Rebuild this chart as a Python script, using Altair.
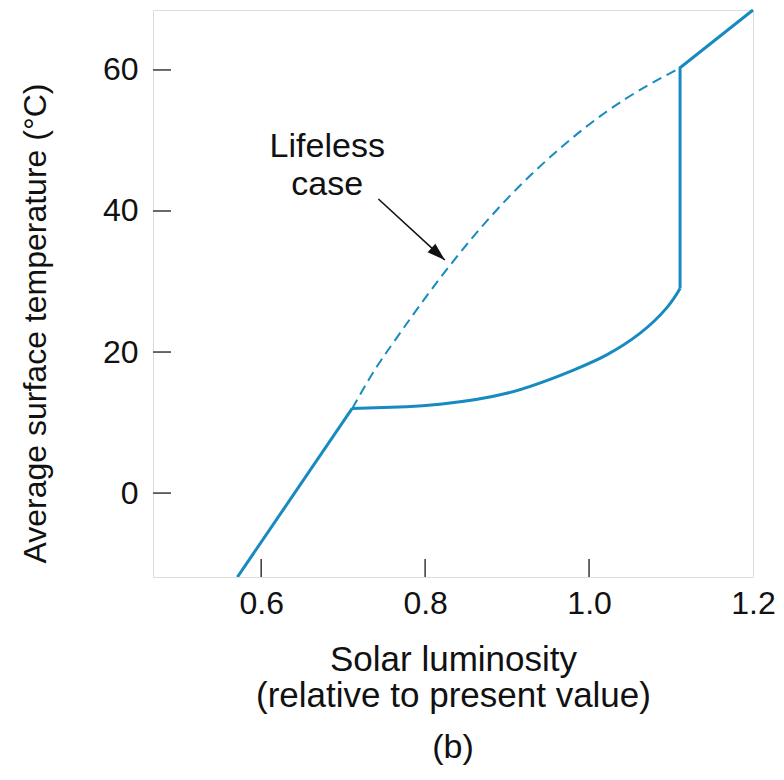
import altair as alt
import pandas as pd

# Solar luminosity (relative to present) vs. average surface temperature (°C)
# Straight warming branch below the onset of life
low_lum = [0.571, 0.711]
low_temp = [-11.9, 12.0]

# Regulated (life) branch
life_lum = [0.711, 0.7775, 0.818, 0.8995, 0.981, 1.0215, 1.062, 1.095, 1.111]
life_temp = [12.0, 12.25, 12.6, 14.15, 17.45, 19.6, 22.65, 26.3, 29.0]

# Collapse of regulation and the lifeless branch beyond it
jump_lum = [1.111, 1.111, 1.200]
jump_temp = [29.0, 60.3, 68.5]

# Lifeless case (dashed)
dead_lum = [0.711, 0.736, 0.764, 0.825, 0.914, 1.019, 1.111]
dead_temp = [12.0, 17.0, 21.8, 31.5, 43.4, 53.9, 60.3]

# Annotation arrow (start, tip)
arrow_lum = [0.743, 0.824]
arrow_temp = [41.7, 33.05]

x_ticks = [0.6, 0.8, 1.0, 1.2]
y_ticks = [0, 20, 40, 60]

X_DOMAIN = [0.468, 1.2]
Y_DOMAIN = [-11.9, 68.5]
W, H = 600, 567
BLUE = "#178bc0"
FONT = "Liberation Sans"

xs = alt.Scale(domain=X_DOMAIN, nice=False, zero=False)
ys = alt.Scale(domain=Y_DOMAIN, nice=False, zero=False)

x_axis = alt.Axis(
    values=x_ticks, format=".1f", grid=False, domain=False, ticks=False,
    labelFont=FONT, labelFontSize=32, labelColor="#111", labelPadding=11,
    labelFlush=False,
    title=["Solar luminosity", "(relative to present value)"],
    titleFont=FONT, titleFontSize=35, titleFontWeight="normal", titleColor="#111",
    titleLineHeight=36, titleBaseline="alphabetic", titleY=93,
)
y_axis = alt.Axis(
    values=y_ticks, format="d", grid=False, domain=False, ticks=False,
    labelFont=FONT, labelFontSize=32, labelColor="#111", labelPadding=15,
    labelFlush=False,
    title="Average surface temperature (°C)",
    titleFont=FONT, titleFontSize=32, titleFontWeight="normal", titleColor="#111",
    titleBaseline="alphabetic", titleAngle=-90, titleX=-108, titleY=313,
    titleAlign="center",
)

low_df = pd.DataFrame({"lum": low_lum, "temp": low_temp})
life_df = pd.DataFrame({"lum": life_lum, "temp": life_temp})
jump_df = pd.DataFrame({"lum": jump_lum, "temp": jump_temp, "k": range(len(jump_lum))})
dead_df = pd.DataFrame({"lum": dead_lum, "temp": dead_temp})

low = alt.Chart(low_df).mark_line(color=BLUE, strokeWidth=3, clip=True).encode(
    x=alt.X("lum:Q", scale=xs, axis=x_axis),
    y=alt.Y("temp:Q", scale=ys, axis=y_axis),
)
life = alt.Chart(life_df).mark_line(color=BLUE, strokeWidth=3, interpolate="natural").encode(
    x=alt.X("lum:Q", scale=xs), y=alt.Y("temp:Q", scale=ys)
)
jump = alt.Chart(jump_df).mark_line(color=BLUE, strokeWidth=3, strokeJoin="miter").encode(
    x=alt.X("lum:Q", scale=xs), y=alt.Y("temp:Q", scale=ys), order="k:Q"
)
dead = alt.Chart(dead_df).mark_line(
    color=BLUE, strokeWidth=2, strokeDash=[10, 6], interpolate="natural"
).encode(x=alt.X("lum:Q", scale=xs), y=alt.Y("temp:Q", scale=ys))

# Inward-pointing tick marks
xt = alt.Chart(pd.DataFrame({"v": x_ticks[:-1]})).mark_rule(color="#444", strokeWidth=1.6).encode(
    x=alt.X("v:Q", scale=xs), y=alt.value(H), y2=alt.value(H - 18)
)
yt = alt.Chart(pd.DataFrame({"v": y_ticks})).mark_rule(color="#444", strokeWidth=1.6).encode(
    y=alt.Y("v:Q", scale=ys), x=alt.value(0), x2=alt.value(18)
)

# Label and arrow for the lifeless case
arrow_df = pd.DataFrame({
    "lum": [arrow_lum[0]], "temp": [arrow_temp[0]],
    "lum2": [arrow_lum[1]], "temp2": [arrow_temp[1]],
})
arrow_line = alt.Chart(arrow_df).mark_rule(color="#111", strokeWidth=1.6).encode(
    x=alt.X("lum:Q", scale=xs), y=alt.Y("temp:Q", scale=ys), x2="lum2:Q", y2="temp2:Q"
)
arrow_head = alt.Chart(arrow_df).mark_point(
    shape="M0,0L-0.42,1.3L0.42,1.3Z", filled=True, color="#111", opacity=1,
    size=760, angle=132,
).encode(x=alt.X("lum2:Q", scale=xs), y=alt.Y("temp2:Q", scale=ys))

label_df = pd.DataFrame({"lum": [0.6806], "temp": [47.7]})
label = alt.Chart(label_df).mark_text(
    text=["Lifeless", "case"], font=FONT, fontSize=34, color="#111",
    align="center", baseline="alphabetic", lineHeight=38,
).encode(x=alt.X("lum:Q", scale=xs), y=alt.Y("temp:Q", scale=ys))

panel = alt.Chart(pd.DataFrame({"t": ["(b)"]})).mark_text(
    font=FONT, fontSize=34, color="#111", align="center", baseline="alphabetic"
).encode(text="t:N", x=alt.value(W / 2), y=alt.value(758 - 10))

chart = alt.layer(
    low, life, jump, dead, xt, yt, arrow_line, arrow_head, label, panel
).properties(
    width=W, height=H,
    autosize=alt.AutoSizeParams(type="none"),
    padding={"left": 153, "top": 10, "right": 31, "bottom": 203},
).configure_view(
    stroke="#555", strokeWidth=2
).configure(background="white")

chart.save("out.html", embed_options={"renderer": "svg", "actions": False})
